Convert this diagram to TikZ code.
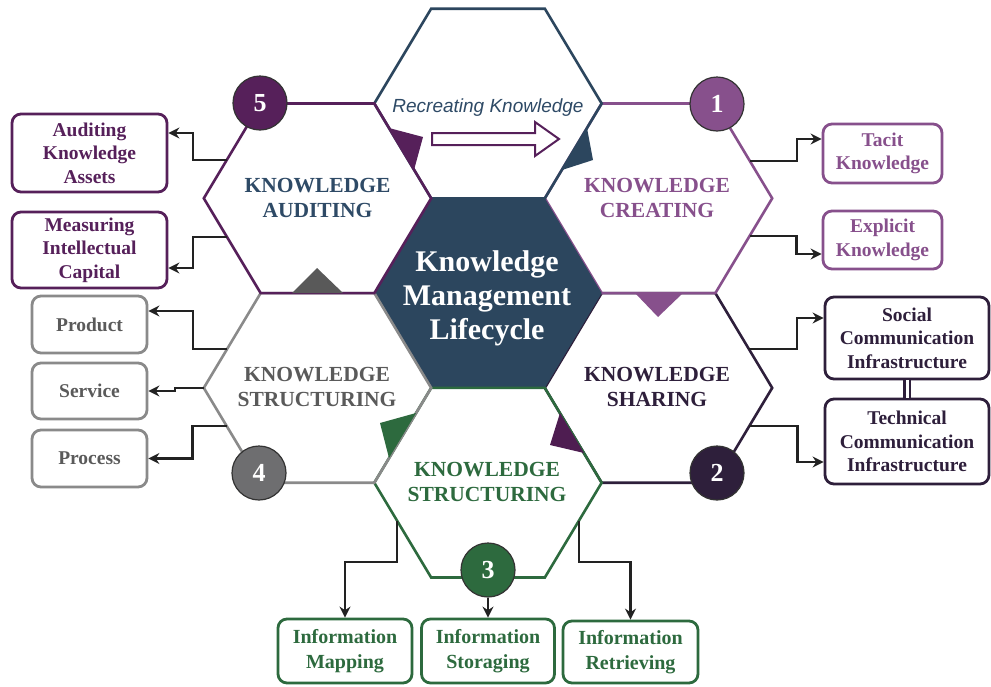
\documentclass[tikz,border=0pt]{standalone}
\usepackage{fontspec}
\setmainfont{Liberation Serif}
\newfontfamily\arialfont{Liberation Sans}
\usetikzlibrary{arrows.meta,calc}
\definecolor{navy}{HTML}{2C465E}
\definecolor{navytext}{HTML}{2E4A66}
\definecolor{dpurple}{HTML}{56205A}
\definecolor{lpurple}{HTML}{87508C}
\definecolor{darkp}{HTML}{2E1F3B}
\definecolor{kgreen}{HTML}{2D6A3E}
\definecolor{kgray}{HTML}{8A8A8A}
\definecolor{kgraytext}{HTML}{5A5A5A}
\definecolor{cgray}{HTML}{6E6E70}
\definecolor{conncol}{HTML}{222222}
\newcommand\kmhexpath[2]{({#1-113.7},#2) -- ({#1-56.85},{#2-94.8}) -- ({#1+56.85},{#2-94.8}) -- ({#1+113.7},#2) -- ({#1+56.85},{#2+94.8}) -- ({#1-56.85},{#2+94.8}) -- cycle}
\begin{document}
\begin{tikzpicture}[x=1pt,y=-1pt,
  hexline/.style={line width=2.6pt, line join=miter},
  hextext/.style={font=\fontsize{21.5}{25}\selectfont\bfseries, align=center},
  kbox/.style={draw, rounded corners=9pt, line width=2.8pt, fill=white, align=center,
    font=\fontsize{19.5}{23.5}\selectfont\bfseries, inner sep=0pt},
  num/.style={circle, draw=black!80, line width=1.2pt, minimum size=54pt, inner sep=0pt,
    text=white, font=\fontsize{26}{26}\selectfont\bfseries},
  conn/.style={draw=conncol, line width=2.3pt, -{Stealth[length=11pt,width=11pt]}}]
\fill[white] (0,0) rectangle (991,686);
\useasboundingbox (0,0) rectangle (991,686);
% hexagons
\draw[hexline, darkp] \kmhexpath{658.5}{387.9};
\draw[hexline, lpurple] \kmhexpath{658.5}{198.3};
\fill[navy] \kmhexpath{488}{293.1};
\draw[hexline, navy] \kmhexpath{488}{103.5};
\draw[hexline, kgreen] \kmhexpath{488}{482.7};
\draw[hexline, kgray] \kmhexpath{317.5}{387.9};
\draw[hexline, dpurple] \kmhexpath{317.5}{198.3};
% flow markers
\fill[dpurple] (389,128) -- (423,137) -- (414,170) -- cycle;
\fill[navy] (587,128) -- (593,160) -- (562,170) -- cycle;
\fill[lpurple] (635,293) -- (683,293) -- (658,317) -- cycle;
\fill[dpurple!90!black] (560,413) -- (584,453) -- (550,445) -- cycle;
\fill[kgreen] (416,413) -- (389,458) -- (380,423) -- cycle;
\fill[black!65] (292,293) -- (343,293) -- (317,268) -- cycle;
% recreating arrow
\draw[dpurple, line width=2pt, fill=white, line join=miter] (432,133) -- (535,133) -- (535,122) -- (559,139) -- (535,156) -- (535,145) -- (432,145) -- cycle;
\node[anchor=base, text=navytext, font=\arialfont\itshape\fontsize{19}{19}\selectfont] (tRecr) at (488,112) {Recreating Knowledge};
% hexagon texts
\node[hextext, text=white, font=\fontsize{30}{34}\selectfont\bfseries] (tCenter) at (487,298) {Knowledge\\Management\\Lifecycle};
\node[hextext, text=navytext] (tAud) at (317.5,198.4) {KNOWLEDGE\\AUDITING};
\node[hextext, text=lpurple] (tCre) at (657,198.4) {KNOWLEDGE\\CREATING};
\node[hextext, text=darkp] (tSha) at (657,387.4) {KNOWLEDGE\\SHARING};
\node[hextext, text=kgraytext] (tStrA) at (317,387.4) {KNOWLEDGE\\STRUCTURING};
\node[hextext, text=kgreen] (tStrB) at (487,482.4) {KNOWLEDGE\\STRUCTURING};
% number circles
\node[num, fill=dpurple] (c5) at (260,103) {5};
\node[num, fill=lpurple] (c1) at (717,104) {1};
\node[num, fill=darkp] (c2) at (717,473) {2};
\node[num, fill=kgreen] (c3) at (488,570) {3};
\node[num, fill=cgray] (c4) at (259,473) {4};
% boxes
\node[kbox, draw=dpurple, text=dpurple, minimum width=155pt, minimum height=78pt] (bAud) at (89.5,153) {Auditing\\Knowledge\\Assets};
\node[kbox, draw=dpurple, text=dpurple, minimum width=155pt, minimum height=76pt] (bMea) at (89.5,250) {Measuring\\Intellectual\\Capital};
\node[kbox, draw=kgray, text=kgraytext, minimum width=115pt, minimum height=57pt] (bPro) at (89.5,324.5) {Product};
\node[kbox, draw=kgray, text=kgraytext, minimum width=115pt, minimum height=56pt] (bSer) at (89.5,391) {Service};
\node[kbox, draw=kgray, text=kgraytext, minimum width=115pt, minimum height=57pt] (bPrc) at (89.5,458.5) {Process};
\node[kbox, draw=lpurple, text=lpurple, minimum width=119pt, minimum height=59pt] (bTac) at (882.5,153.5) {Tacit\\Knowledge};
\node[kbox, draw=lpurple, text=lpurple, minimum width=119pt, minimum height=58pt] (bExp) at (882.5,240) {Explicit\\Knowledge};
\node[kbox, draw=darkp, text=darkp, minimum width=164pt, minimum height=82pt] (bSoc) at (907,338) {Social\\Communication\\Infrastructure};
\node[kbox, draw=darkp, text=darkp, minimum width=164pt, minimum height=85pt] (bTec) at (907,441.5) {Technical\\Communication\\Infrastructure};
\node[kbox, draw=kgreen, text=kgreen, minimum width=134pt, minimum height=64pt, font=\fontsize{20}{25}\selectfont\bfseries] (bMap) at (345,651) {Information\\Mapping};
\node[kbox, draw=kgreen, text=kgreen, minimum width=133pt, minimum height=64pt, font=\fontsize{20}{25}\selectfont\bfseries] (bSto) at (488,651) {Information\\Storaging};
\node[kbox, draw=kgreen, text=kgreen, minimum width=135pt, minimum height=62pt, font=\fontsize{20}{25}\selectfont\bfseries] (bRet) at (630.5,652) {Information\\Retrieving};
% connector start points on hexagon edges
\coordinate (sAud) at (226.8,160);
\coordinate (sMea) at (227.0,237);
\coordinate (sPro) at (227.1,349);
\coordinate (sSer) at (203.8,387.9);
\coordinate (sPrc) at (226.6,426);
\coordinate (sTac) at (749.8,161);
\coordinate (sExp) at (749.6,236);
\coordinate (sSoc) at (748.9,349);
\coordinate (sTec) at (749.4,426);
\coordinate (sMap) at (397.3,521);
\coordinate (sRet) at (578.7,521);
% connectors
\draw[conn] (sAud) -- ++(-34,0) |- ([yshift=20pt]bAud.east);
\draw[conn] (sMea) -- ++(-34,0) |- ([yshift=-18pt]bMea.east);
\draw[conn] (sPro) -- ++(-34,0) |- ([yshift=13.5pt]bPro.east);
\draw[conn] (sSer) -- ++(-29,0) |- (bSer.east);
\draw[conn] (sPrc) -- ++(-34,0) |- (bPrc.east);
\draw[conn] (sTac) -- ++(47,0) |- ([yshift=14.5pt]bTac.west);
\draw[conn] (sExp) -- ++(47,0) |- ([yshift=-14pt]bExp.west);
\draw[conn] (sSoc) -- ++(48,0) |- ([yshift=20pt]bSoc.west);
\draw[conn] (sTec) -- ++(48,0) |- ([yshift=-20.5pt]bTec.west);
\draw[conn] (sMap) -- ++(0,41) -| (bMap.north);
\draw[conn] (c3.south) -- (bSto.north);
\draw[conn] (sRet) -- ++(0,41) -| (bRet.north);
\draw[darkp, line width=2.2pt, double=white, double distance=3pt] (bSoc.south) -- (bTec.north);
\end{tikzpicture}
\end{document}
